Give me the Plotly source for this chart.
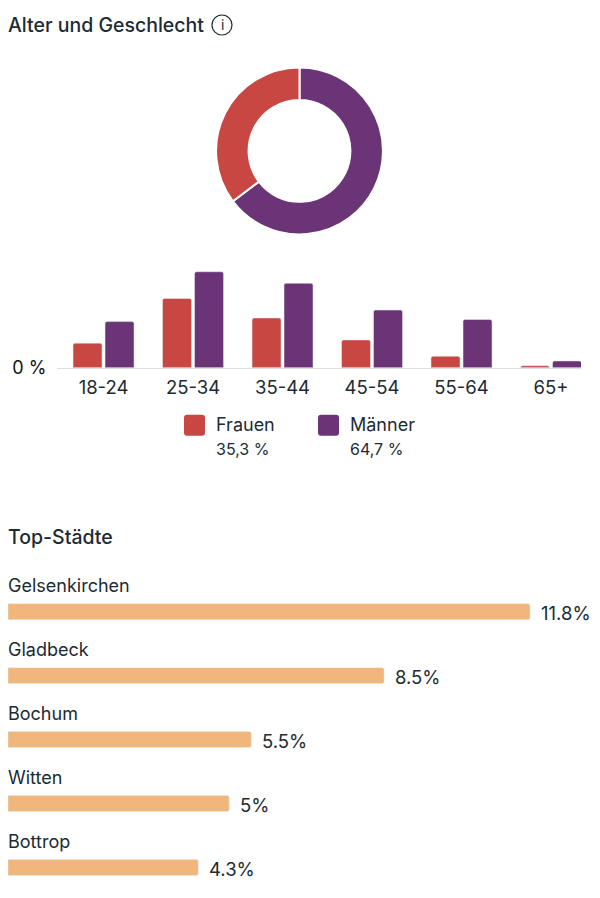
import plotly.graph_objects as go

W, H = 600, 898
H_EFF = 888.5  # measured vertical extent of the paper in the rendered page

# --- Data ---
gender_labels = ["Männer", "Frauen"]
gender_share = [64.7, 35.3]
gender_text = ["64,7 %", "35,3 %"]
age_groups = ["18-24", "25-34", "35-44", "45-54", "55-64", "65+"]
women = [4.7, 13.2, 9.5, 5.3, 2.2, 0.4]
men = [8.8, 18.3, 16.1, 11.0, 9.2, 1.3]
cities = ["Gelsenkirchen", "Gladbeck", "Bochum", "Witten", "Bottrop"]
city_share = [11.8, 8.5, 5.5, 5, 4.3]

# --- Styles ---
RED, PURPLE, ORANGE = "#C94742", "#6A3476", "#F0B67B"
INK = "#1C2B33"
FONT = "Inter, Roboto, sans-serif"


def px(x):
    return x / W


def py(y):
    return 1 - y / H_EFF


def rounded(x0, y0, x1, y1, r):
    xa, xb, ya, yb = px(x0), px(x1), py(y0), py(y1)
    rx, ry = r / W, r / H_EFF
    return (f"M{xa+rx},{ya} L{xb-rx},{ya} Q{xb},{ya} {xb},{ya-ry} L{xb},{yb+ry} Q{xb},{yb} {xb-rx},{yb} "
            f"L{xa+rx},{yb} Q{xa},{yb} {xa},{yb+ry} L{xa},{ya-ry} Q{xa},{ya} {xa+rx},{ya} Z")


fig = go.Figure()

fig.add_trace(go.Pie(
    labels=gender_labels, values=gender_share, hole=0.61, sort=False, direction="clockwise", rotation=0,
    marker=dict(colors=[PURPLE, RED], line=dict(color="white", width=2)),
    textinfo="none", showlegend=False,
    domain=dict(x=[px(216), px(383)], y=[py(234.5), py(67.5)]),
))

fig.add_trace(go.Bar(x=age_groups, y=women, name="Frauen", marker_color=RED, xaxis="x", yaxis="y", showlegend=False))
fig.add_trace(go.Bar(x=age_groups, y=men, name="Männer", marker_color=PURPLE, xaxis="x", yaxis="y", showlegend=False))

fig.add_trace(go.Bar(x=city_share, y=cities, orientation="h", marker_color=ORANGE, width=0.25,
                     xaxis="x2", yaxis="y2", showlegend=False))

annotations = []


def label(text, x, y, size, color=INK, weight=400, anchor="left"):
    annotations.append(dict(text=text, x=px(x), y=py(y), xref="paper", yref="paper", xanchor=anchor, yanchor="middle",
                            showarrow=False, font=dict(family=FONT, size=size, color=color, weight=weight)))


label("Alter und Geschlecht", 6, 25, 19.5, weight=500)
label("i", 222, 25, 14, anchor="center")
label("Top-Städte", 6, 537, 19.5, weight=500)

legend_y = 425
for swatch_x, color, name, share in [(184, RED, "Frauen", gender_text[1]), (318, PURPLE, "Männer", gender_text[0])]:
    label(name, swatch_x + 30, legend_y, 18)
    label(share, swatch_x + 30, legend_y + 24, 16)

for city, share in zip(cities, city_share):
    annotations.append(dict(text=city, x=0, y=city, xref="x2", yref="y2", xanchor="left", yanchor="middle",
                            xshift=-2, yshift=26, showarrow=False, font=dict(family=FONT, size=18, color=INK)))
    annotations.append(dict(text=f"{share}%", x=share, y=city, xref="x2", yref="y2", xanchor="left", yanchor="middle",
                            xshift=9, yshift=-1, showarrow=False, font=dict(family=FONT, size=18.5, color=INK)))

shapes = [
    dict(type="path", xref="paper", yref="paper", path=rounded(184, 415, 205, 436, 3), fillcolor=RED, line_width=0),
    dict(type="path", xref="paper", yref="paper", path=rounded(318, 415, 339, 436, 3), fillcolor=PURPLE, line_width=0),
    dict(type="circle", xref="paper", yref="paper", x0=px(212), x1=px(232), y0=py(35), y1=py(15),
         line=dict(color=INK, width=1.2), fillcolor="rgba(0,0,0,0)"),
]

fig.update_layout(
    width=W, height=H, margin=dict(l=0, r=0, t=0, b=0), paper_bgcolor="white", plot_bgcolor="white",
    barmode="group", bargap=0.285, bargroupgap=0.094, barcornerradius=2,
    font=dict(family=FONT, color=INK),
    annotations=annotations, shapes=shapes,
    xaxis=dict(domain=[px(57), px(581)], range=[-0.52, 5.335], showgrid=False, zeroline=False,
               showline=True, linecolor="#DDDDDD", linewidth=1, ticks="outside", ticklen=3, tickcolor="rgba(0,0,0,0)",
               tickfont=dict(family=FONT, size=18.5, color=INK), anchor="y"),
    yaxis=dict(domain=[py(368), py(260)], range=[0, 20.57], tickvals=[0], ticktext=["0 %"], showgrid=False,
               zeroline=False, showline=False, ticks="outside", ticklen=6, tickcolor="rgba(0,0,0,0)",
               tickfont=dict(family=FONT, size=18, color="#111111"), anchor="x"),
    xaxis2=dict(domain=[px(8), 1], range=[0, 13.38], visible=False, anchor="y2"),
    yaxis2=dict(domain=[py(880), py(590)], range=[4.1875, -0.34375], visible=False, anchor="x2",
                categoryorder="array", categoryarray=cities),
)

fig.write_html("out.html", config=dict(displayModeBar=False),
               post_script="document.body.style.margin='0';document.documentElement.style.overflow='hidden';")
